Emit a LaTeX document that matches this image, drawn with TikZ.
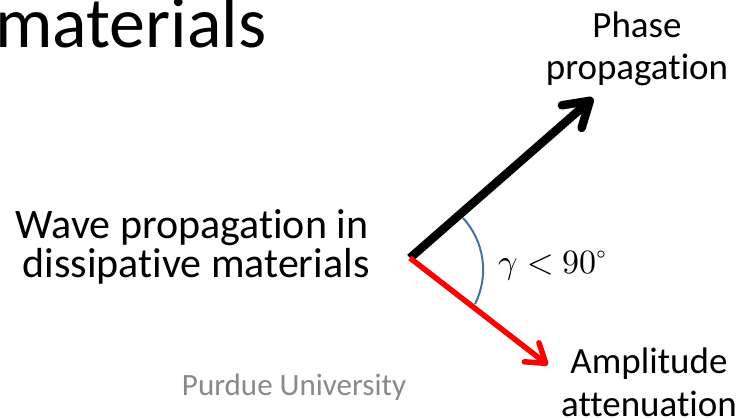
\documentclass[tikz,border=0pt]{standalone}
\usepackage{graphicx}
\usepackage{fontspec}
\usepackage{unicode-math}
\setmainfont{Carlito}[Ligatures=NoCommon]
\setmathfont{Latin Modern Math}
\usetikzlibrary{arrows.meta}
\definecolor{arcblue}{RGB}{68,114,160}
\definecolor{footgray}{RGB}{137,137,137}
\definecolor{arrowred}{RGB}{255,0,0}
\tikzset{
  lbl/.style={anchor=base, inner sep=0pt, font=\fontsize{37}{43}\selectfont},
  leftlbl/.style={anchor=base, inner sep=0pt, font=\fontsize{42}{40}\selectfont},
  phasearrow/.style={line width=8.5pt, black, -{Straight Barb[length=24pt,width=30pt,round]}},
  attarrow/.style={line width=5.5pt, arrowred, -{Straight Barb[length=18pt,width=24pt,round]}},
}
\begin{document}
\begin{tikzpicture}[x=1pt,y=-1pt]
\useasboundingbox (0,0) rectangle (743,418);
\node[anchor=base west, inner sep=0pt, font=\fontsize{72}{80}\selectfont] (title) at (-5,47) {materials};
\node[leftlbl] (wave1) at (192,238) {Wave propagation in};
\node[leftlbl] (wave2) at (196,277) {dissipative materials};
\node[lbl] (phase1) at (637,37) {Phase};
\node[lbl] (phase2) at (637,79) {propagation};
\node[lbl] (amp1) at (649,373) {Amplitude};
\node[lbl] (amp2) at (649,416) {attenuation};
\node[anchor=base, inner sep=0pt, text=footgray, font=\fontsize{31}{36}\selectfont] (foot) at (294,395) {Purdue University};
\coordinate (o) at (410,258);
\coordinate (ptip) at (593,98);
\coordinate (atip) at (548,365);
\coordinate (arcc) at (406.75,269.7);
\draw[arcblue, line width=2pt] ([shift={(-42.6:76.4)}]arcc) arc[start angle=-42.6, end angle=26.7, radius=76.4];
\draw[phasearrow] (o) -- (ptip);
\draw[attarrow] (o) -- (atip);
\node[anchor=base west, inner sep=0pt] (gamma) at (498,273) {\scalebox{3.4}{$\gamma<90^{\circ}$}};
\end{tikzpicture}
\end{document}
